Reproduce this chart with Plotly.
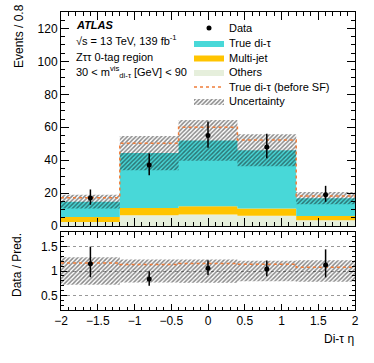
import plotly.graph_objects as go
import numpy as np

# binning in di-tau eta
bin_edges = [-2.0, -1.2, -0.4, 0.4, 1.2, 2.0]
bin_centres = [-1.6, -0.8, 0.0, 0.8, 1.6]

# stacked predictions (events / bin)
others = [2.5, 6.6, 7.0, 6.2, 3.5]
multijet = [3.0, 4.3, 5.0, 4.5, 2.5]
true_ditau = [9.3, 33.4, 40.0, 35.3, 10.9]
true_ditau_before_sf = [11.7, 39.3, 48.0, 41.6, 12.2]
uncertainty = [4.2, 10.4, 12.4, 9.7, 3.7]

# data with asymmetric (Poisson) errors
data = [17, 37, 55, 48, 19]
data_err_up = [5.2, 7.1, 8.5, 8.0, 5.4]
data_err_down = [4.1, 6.1, 7.4, 6.9, 4.3]

others = np.array(others)
multijet = np.array(multijet)
true_ditau = np.array(true_ditau)
total = others + multijet + true_ditau
total_pre = others + multijet + np.array(true_ditau_before_sf)
unc = np.array(uncertainty)
data_a = np.array(data, dtype=float)

CYAN = "#48D8D8"
YELLOW = "#FFC400"
LGREEN = "#E6EFDC"
ORANGE = "#F07D3A"
FONT = "Liberation Sans, Arial, sans-serif"

PX_L, PX_R, PX_T, PX_B = 61, 355, 12, 310  # plot-area pixels wanted on screen


def py(pix):
    return (PX_B - pix) / (PX_B - PX_T)


def px(pix):
    return (pix - PX_L) / (PX_R - PX_L)


def step(vals):
    # histogram outline over the bin edges
    return list(vals) + [vals[-1]]


fig = go.Figure()

stack_line = dict(width=0, shape="hv")
fig.add_trace(go.Scatter(x=bin_edges, y=step(others), mode="lines", line=stack_line,
                         fill="tozeroy", fillcolor=LGREEN, name="Others",
                         legend="legend4", xaxis="x", yaxis="y"))
fig.add_trace(go.Scatter(x=bin_edges, y=step(others + multijet), mode="lines",
                         line=stack_line, fill="tonexty", fillcolor=YELLOW,
                         name="Multi-jet", legend="legend3", xaxis="x", yaxis="y"))
fig.add_trace(go.Scatter(x=bin_edges, y=step(total), mode="lines", line=stack_line,
                         fill="tonexty", fillcolor=CYAN, name="True di-τ",
                         legend="legend2", xaxis="x", yaxis="y"))

hatch = dict(shape="/", size=3, solidity=0.5, fgcolor="#111111", bgcolor="rgba(0,0,0,0)")
fig.add_trace(go.Scatter(x=bin_edges, y=step(total - unc), mode="lines", line=stack_line,
                         showlegend=False, hoverinfo="skip", xaxis="x", yaxis="y"))
fig.add_trace(go.Scatter(x=bin_edges, y=step(total + unc), mode="lines", line=stack_line,
                         fill="tonexty", fillcolor="rgba(0,0,0,0)", fillpattern=hatch,
                         name="Uncertainty", legend="legend6", xaxis="x", yaxis="y"))
fig.add_trace(go.Scatter(x=bin_edges, y=step(total_pre), mode="lines",
                         line=dict(shape="hv", color=ORANGE, dash="dot", width=1.5),
                         name="True di-τ (before SF)", legend="legend5",
                         xaxis="x", yaxis="y"))
fig.add_trace(go.Scatter(x=bin_centres, y=data, mode="markers", name="Data",
                         marker=dict(color="black", size=5),
                         error_y=dict(type="data", array=data_err_up, arrayminus=data_err_down,
                                      color="black", thickness=1.5, width=0),
                         legend="legend", xaxis="x", yaxis="y"))

# ratio panel
ratio_unc = unc / total
fig.add_trace(go.Scatter(x=bin_edges, y=step(1 - ratio_unc), mode="lines", line=stack_line,
                         showlegend=False, hoverinfo="skip", xaxis="x2", yaxis="y2"))
fig.add_trace(go.Scatter(x=bin_edges, y=step(1 + ratio_unc), mode="lines", line=stack_line,
                         fill="tonexty", fillcolor="rgba(0,0,0,0)", fillpattern=hatch,
                         showlegend=False, xaxis="x2", yaxis="y2"))
ratio_pre = total_pre / total
fig.add_trace(go.Scatter(x=bin_edges, y=step(ratio_pre), mode="lines",
                         line=dict(shape="hv", color=ORANGE, dash="dot", width=1.5),
                         showlegend=False, xaxis="x2", yaxis="y2"))
fig.add_trace(go.Scatter(x=bin_centres, y=data_a / total, mode="markers",
                         marker=dict(color="black", size=5),
                         error_y=dict(type="data", array=np.array(data_err_up) / total,
                                      arrayminus=np.array(data_err_down) / total,
                                      color="black", thickness=1.5, width=0),
                         showlegend=False, xaxis="x2", yaxis="y2"))

axis_common = dict(showline=True, linecolor="black", linewidth=1, mirror="allticks",
                   ticks="inside", tickcolor="black", zeroline=False, showgrid=False,
                   automargin=False, tickfont=dict(size=12, color="black"))

split_main = py(226)
split_ratio = py(232)

# one legend box per row, so the rows can sit as tight as in the original
legend_rows = [28, 43, 57.5, 72, 87, 101]
legends = {}
for i, row in enumerate(legend_rows):
    key = "legend" if i == 0 else "legend%d" % (i + 1)
    legends[key] = dict(x=px(189), y=py(row), xanchor="left", yanchor="middle",
                        bgcolor="rgba(0,0,0,0)", font=dict(size=11), itemwidth=30,
                        borderwidth=0)

fig.update_layout(
    width=374, height=363,
    margin=dict(l=PX_L, r=374 - PX_R, t=PX_T, b=363 - PX_B),
    paper_bgcolor="white", plot_bgcolor="white",
    font=dict(family=FONT, size=11, color="black"),
    xaxis=dict(domain=[0, 1], anchor="y", range=[-2, 2], showticklabels=False,
               dtick=0.5, ticklen=8, minor=dict(dtick=0.1, ticks="inside", ticklen=4),
               **axis_common),
    yaxis=dict(domain=[split_main, 1], anchor="x", range=[0, 130], dtick=20, ticklen=8,
               minor=dict(dtick=5, ticks="inside", ticklen=4), **axis_common),
    xaxis2=dict(domain=[0, 1], anchor="y2", range=[-2, 2], dtick=0.5, ticklen=6,
                matches="x", minor=dict(dtick=0.1, ticks="inside", ticklen=3),
                **axis_common),
    yaxis2=dict(domain=[0, split_ratio], anchor="x2", range=[0.2, 1.8],
                tickvals=[0.5, 1, 1.5], ticktext=["0.5", "1", "1.5"], ticklen=6,
                minor=dict(dtick=0.1, ticks="inside", ticklen=3),
                **{**axis_common, "showgrid": True}, gridcolor="#999999",
                griddash="dot", gridwidth=1),
    **legends,
)

annotations = [
    ("<b><i>ATLAS</i></b>", 25),
    ("√s = 13 TeV, 139 fb<sup>-1</sup>", 40),
    ("Zττ 0-tag region", 56.5),
    ("30 < m<sup>vis</sup><sub>di-τ</sub> [GeV] < 90", 72),
]
for text, row in annotations:
    fig.add_annotation(text=text, xref="paper", yref="paper", x=px(74),
                       y=py(row), xanchor="left", yanchor="middle",
                       showarrow=False, font=dict(size=11))

fig.add_annotation(text="Events / 0.8", xref="paper", yref="paper", x=px(19),
                   y=py(2), xanchor="center", yanchor="top", textangle=-90,
                   showarrow=False, font=dict(size=12))
fig.add_annotation(text="Data / Pred.", xref="paper", yref="paper", x=px(17),
                   y=py(231), xanchor="center", yanchor="top", textangle=-90,
                   showarrow=False, font=dict(size=12))
fig.add_annotation(text="Di-τ η", xref="paper", yref="paper", x=px(356),
                   y=py(339), xanchor="right", yanchor="middle",
                   showarrow=False, font=dict(size=12))

# drop the default page margin so the figure starts at the window corner
fig.write_html("out.html", config={"displayModeBar": False},
               post_script="document.body.style.margin='0px';")
